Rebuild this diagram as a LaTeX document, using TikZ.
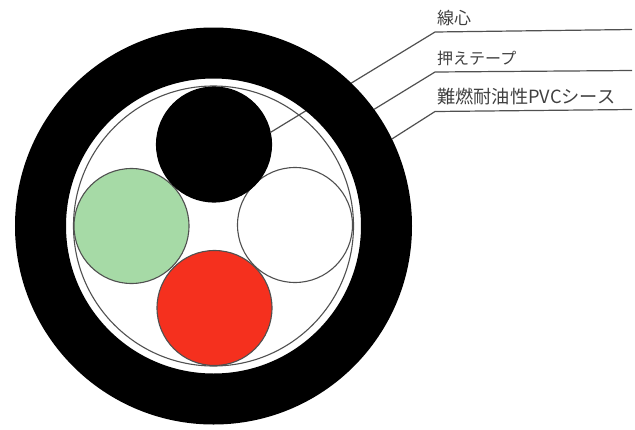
\documentclass[tikz,border=0pt]{standalone}
\usepackage{fontspec}
\setmainfont{Noto Sans CJK JP}
\usepackage{xcolor}
\usetikzlibrary{positioning}
\definecolor{linegray}{RGB}{80,80,80}
\definecolor{coregreen}{RGB}{166,218,166}
\definecolor{corered}{RGB}{245,48,30}
\tikzset{
  core/.style={circle, draw=linegray, line width=1.1pt, minimum size=115pt, inner sep=0pt, outer sep=0pt},
  leader/.style={draw=linegray, line width=1.2pt},
  callout/.style={right, inner sep=0pt, text=black!75}
}

\begin{document}
\begin{tikzpicture}[x=1pt, y=-1pt]
\useasboundingbox (0,0) rectangle (635,429);

% Tape and the four cores
\node[circle, draw=linegray, line width=1.1pt, minimum size=280pt, inner sep=0pt, outer sep=0pt] (tape) at (213.5,226) {};
\node[core, fill=coregreen] (coregr) at (131.5,226) {};
\node[core, fill=white] (corewh) at (295,225) {};
\node[core, fill=corered] (corerd) at (214.5,308) {};
\node[core, fill=black, draw=black] (corebk) at (214,144.5) {};

% Leader of the black core runs under the sheath
\coordinate (elbowa) at (435,32);
\coordinate (enda) at (632,29.5);
\draw[leader] (corebk.12) -- (elbowa) -- (enda);

% Sheath
\node[circle, draw=black, line width=51pt, minimum size=346pt, inner sep=0pt] (sheath) at (213.5,226) {};

% Other leaders
\coordinate (elbowb) at (435,72);
\coordinate (endb) at (632,70.5);
\coordinate (elbowc) at (435,111.5);
\coordinate (endc) at (632,109.5);
\draw[leader] (sheath.36) -- (elbowb) -- (endb);
\draw[leader] (sheath.26) -- (elbowc) -- (endc);

% Labels
\node[callout, font=\fontsize{17}{20}\selectfont] (lblcore) at (437,18) {線心};
\node[callout, font=\fontsize{16}{19}\selectfont] (lbltape) at (437,58) {押えテープ};
\node[callout, font=\fontsize{18.2}{21}\selectfont] (lblsheath) at (437,96.5) {難燃耐油性PVCシース};
\end{tikzpicture}
\end{document}
